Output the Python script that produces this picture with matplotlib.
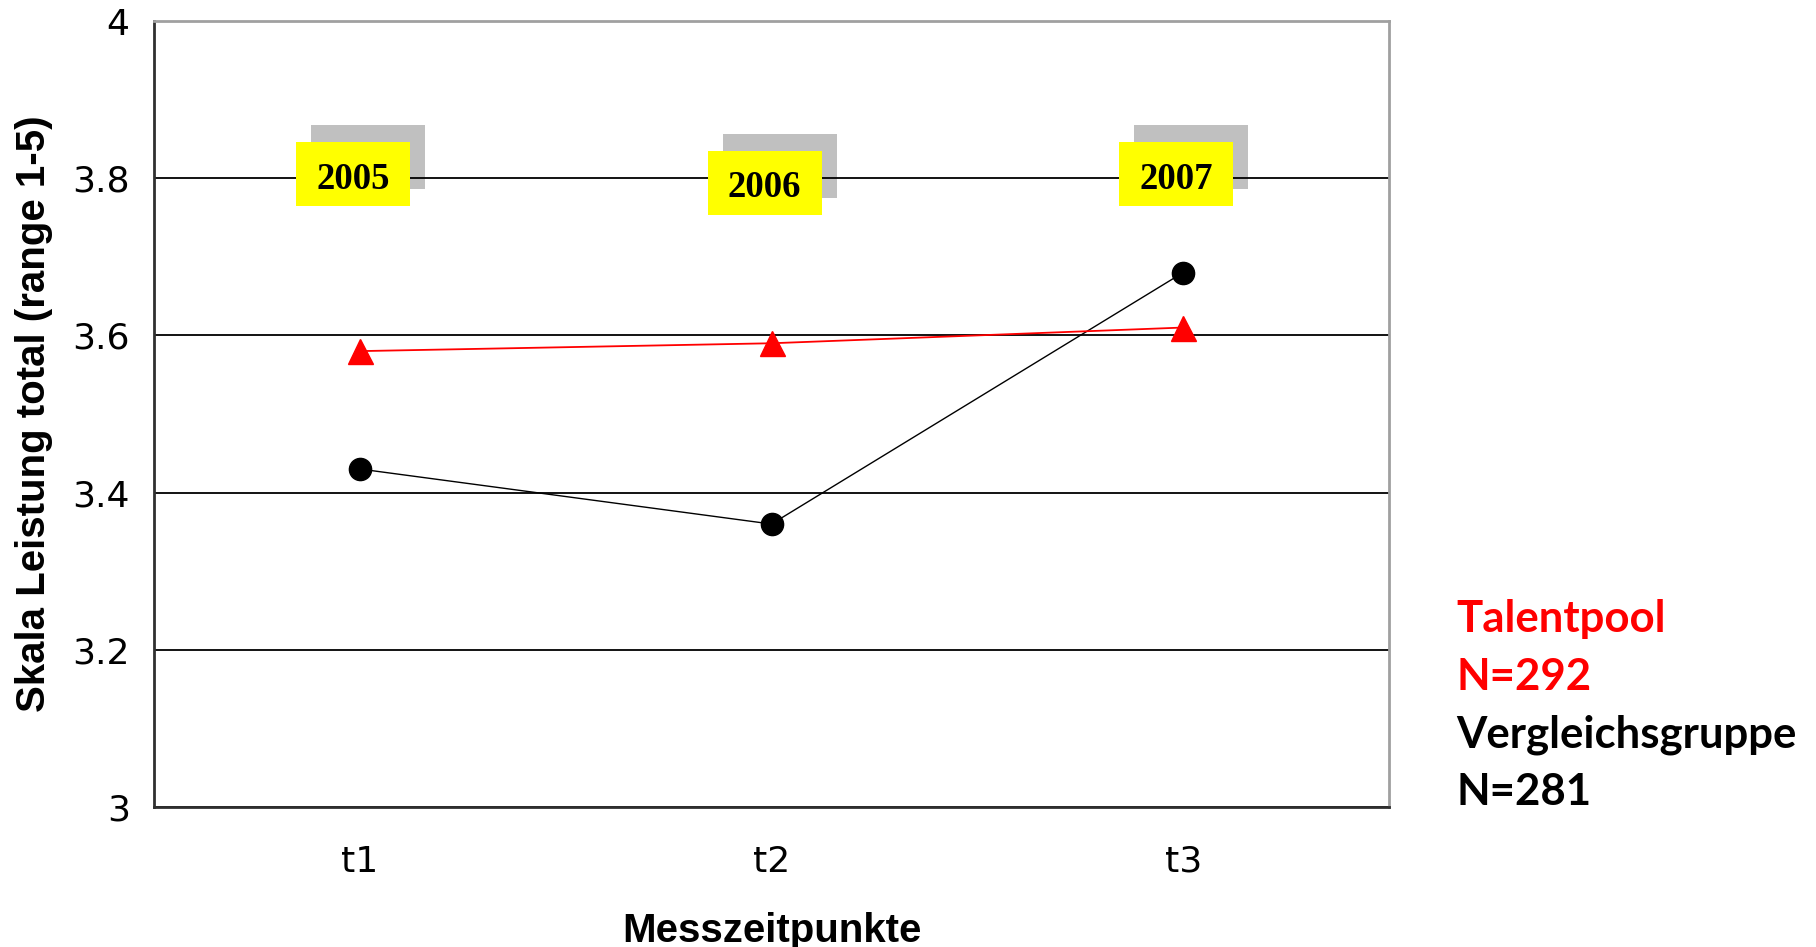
import matplotlib
matplotlib.use("Agg")
import matplotlib.pyplot as plt
from matplotlib.patches import Rectangle
from matplotlib import font_manager

# ---------------------------
# data
# ---------------------------
zeitpunkte = ["t1", "t2", "t3"]
jahre = ["2005", "2006", "2007"]
talentpool = [3.58, 3.59, 3.61]
vergleichsgruppe = [3.43, 3.36, 3.68]
jahr_label_y = [3.805, 3.794, 3.805]
y_ticks = [3, 3.2, 3.4, 3.6, 3.8, 4]
y_tick_labels = ["3", "3.2", "3.4", "3.6", "3.8", "4"]

legend_lines = ["Talentpool", "N=292", "Vergleichsgruppe", "N=281"]
legend_colors = ["#ff0000", "#ff0000", "black", "black"]

# condensed font for axis titles if it exists
installed = {f.name for f in font_manager.fontManager.ttflist}
if "Liberation Sans Narrow" in installed:
    title_font, title_size = "Liberation Sans Narrow", 35
else:
    title_font, title_size = "Liberation Sans", 29

# ---------------------------
# figure
# ---------------------------
W, H = 1816, 947
fig = plt.figure(figsize=(W / 100, H / 100), dpi=100)
ax = fig.add_axes([154 / W, 1 - 807 / H, 1235 / W, 786 / H])

x = list(range(1, len(zeitpunkte) + 1))
ax.set_xlim(0.5, 3.5)
ax.set_ylim(3, 4)

ax.plot(x, vergleichsgruppe, color="black", lw=1.0, marker="o", ms=16, zorder=4)
ax.plot(x, talentpool, color="#ff0000", lw=1.3, marker="^", ms=18, zorder=5)

ax.set_yticks(y_ticks)
ax.set_yticklabels(y_tick_labels)
ax.set_xticks(x)
ax.set_xticklabels(zeitpunkte)
ax.tick_params(axis="y", length=0, pad=17.5, labelsize=26)
ax.tick_params(axis="x", length=0, pad=27, labelsize=26)

ax.set_axisbelow(True)
ax.grid(axis="y", color="black", lw=1.3)
ax.grid(axis="x", visible=False)

for side in ["left", "bottom"]:
    ax.spines[side].set_color("#303030")
    ax.spines[side].set_linewidth(2)
for side in ["top", "right"]:
    ax.spines[side].set_color("#a0a0a0")
    ax.spines[side].set_linewidth(2)

# year boxes (yellow with grey shadow)
dx = 3.0 / ax.bbox.width
dy = 1.0 / ax.bbox.height
bw, bh = 114 * dx, 64 * dy
for xi, yi, lab in zip(x, jahr_label_y, jahre):
    cx = xi - 7 * dx
    ax.add_patch(Rectangle((cx - bw / 2 + 15 * dx, yi - bh / 2 + 17 * dy), bw, bh,
                           facecolor="#c0c0c0", edgecolor="none", zorder=0.2))
    ax.add_patch(Rectangle((cx - bw / 2, yi - bh / 2), bw, bh,
                           facecolor="#ffff00", edgecolor="none", zorder=2))
    ax.text(cx, yi - 5 * dy, lab, ha="center", va="center", fontsize=26.5, fontweight="bold",
            family="Liberation Serif", zorder=3)

ax.set_xlabel("Messzeitpunkte", fontsize=title_size, fontweight="bold", family=title_font)
ax.xaxis.set_label_coords(0.5, -0.133)
ax.set_ylabel("Skala Leistung total (range 1-5)", fontsize=title_size,
              fontweight="bold", family=title_font)
ax.yaxis.set_label_coords(-0.082, 0.5)

baselines = [632, 690, 747, 805]
for txt, col, b in zip(legend_lines, legend_colors, baselines):
    fig.text(1456 / W, 1 - b / H, txt, color=col, fontsize=31.5, fontweight="bold",
             family="Lato", ha="left", va="baseline")

fig.savefig("out.png", dpi=100)
